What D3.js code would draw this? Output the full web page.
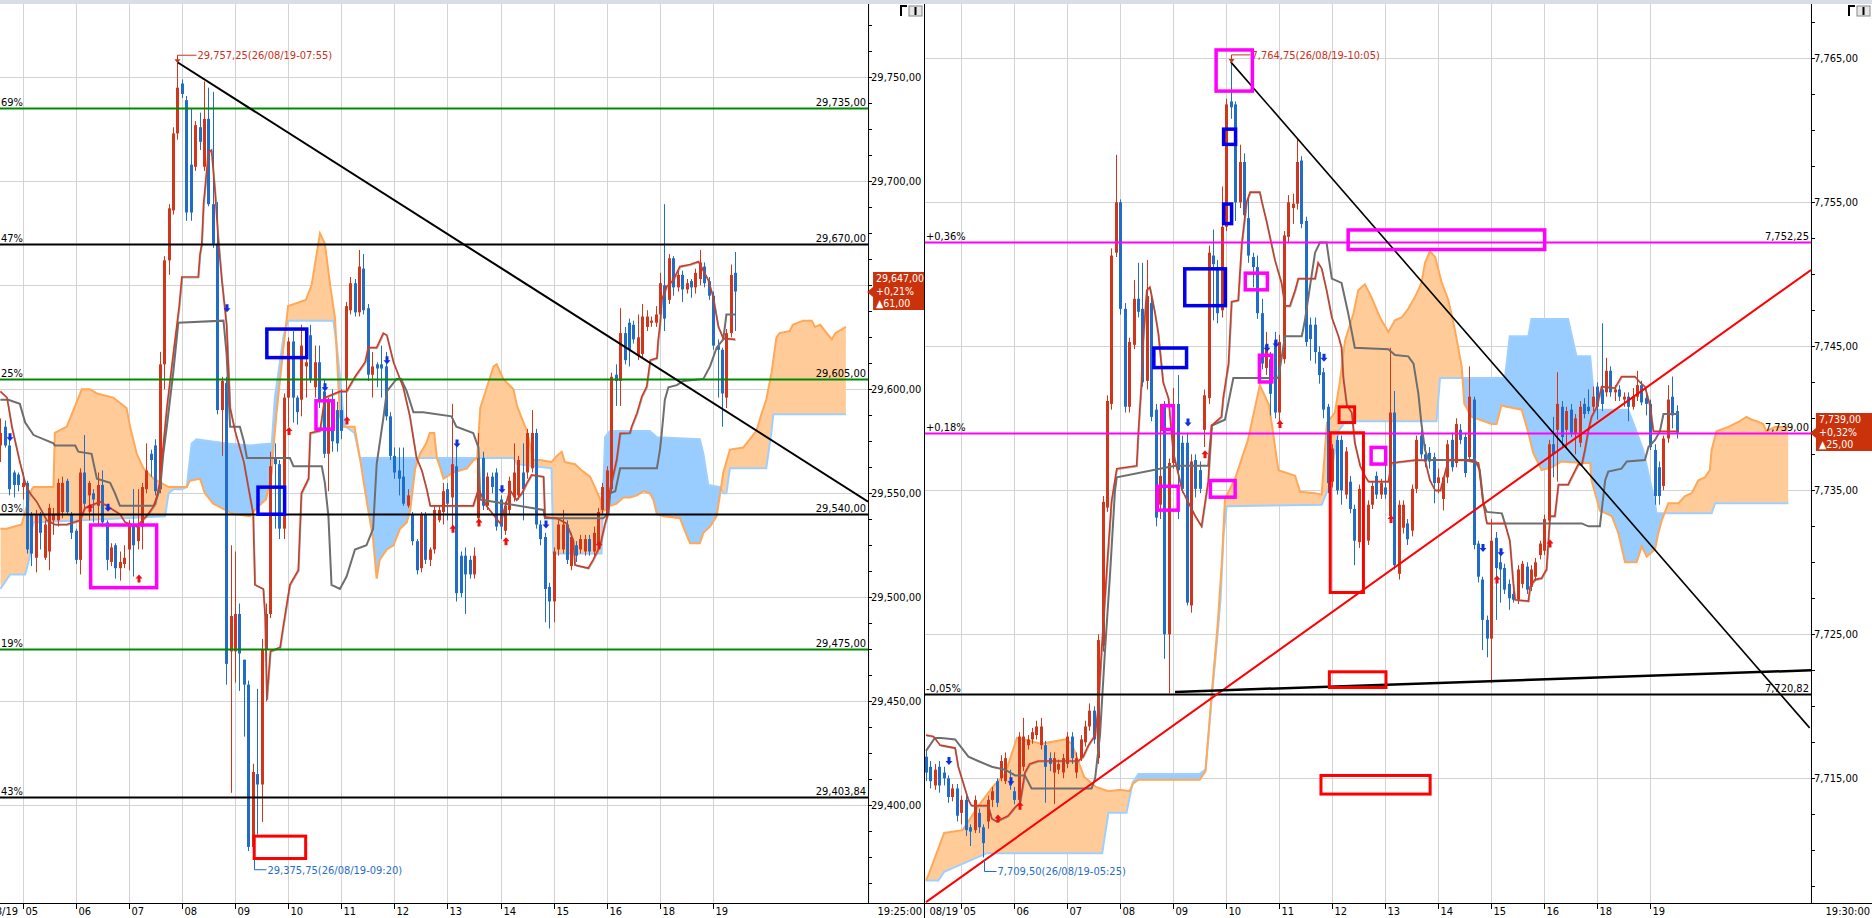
<!DOCTYPE html>
<html><head><meta charset="utf-8">
<script src="https://cdn.jsdelivr.net/npm/d3@7/dist/d3.min.js"></script>
<style>
html,body{margin:0;padding:0;background:#fff;overflow:hidden}
svg{display:block}
text{font-family:"DejaVu Sans Condensed","DejaVu Sans",sans-serif;font-stretch:condensed;font-size:11px}
</style></head><body>
<svg id="c" width="1872" height="918"></svg>
<script>
// ================= DATA =================
const hourLabels=['05','06','07','08','09','10','11','12','13','14','15','16','18','19'];
const leftHourIdx=[5,17,29,41,53,65,77,89,101,113,125,137,149,161];
const rightHourIdx=[8,20,32,44,56,68,80,92,104,116,128,140,152,164];

// Left: Dow futures 5-min candles
const leftOpen=[
29573,29582,29573,29560,29559,29553,29555,29540,29519,29540,
29519,29522,29537,29537,29541,29556,29540,29532,29518,29560,
29549,29550,29544,29554,29536,29517,29525,29514,29516,29523,
29535,29527,29534,29552,29569,29573,29552,29612,29662,29686,
29723,29747,29739,29708,29707,29726,29707,29730,29689,29670,
29590,29603,29474,29474,29492,29470,29458,29380,29415,29410,
29475,29492,29567,29564,29533,29596,29623,29596,29595,29611,
29626,29601,29613,29599,29569,29594,29590,29590,29605,29638,
29651,29637,29658,29639,29607,29612,29612,29611,29587,29568,
29561,29558,29544,29540,29527,29514,29540,29518,29523,29537,
29541,29552,29548,29563,29520,29520,29518,29511,29538,29567,
29544,29558,29560,29547,29532,29542,29548,29549,29560,29560,
29562,29579,29535,29529,29505,29498,29523,29523,29535,29515,
29525,29523,29522,29528,29522,29525,29542,29540,29552,29607,
29604,29627,29632,29631,29616,29617,29630,29632,29632,29636,
29650,29643,29663,29649,29655,29648,29652,29649,29653,29659,
29652,29645,29621,29619,29596,29627,29656];
const leftHigh=[
29586,29585,29576,29561,29560,29560,29556,29541,29542,29541,
29537,29545,29543,29557,29558,29557,29541,29533,29562,29578,
29556,29552,29560,29561,29537,29526,29526,29522,29525,29537,
29552,29552,29555,29574,29571,29576,29618,29664,29689,29726,
29757.25,29749,29741,29735,29729,29733,29748,29745,29743,29690,
29606,29606,29525,29522,29497,29470,29460,29420,29456,29480,
29497,29570,29574,29566,29598,29625,29628,29597,29631,29623,
29631,29621,29621,29605,29596,29600,29594,29600,29642,29654,
29653,29667,29665,29641,29618,29613,29621,29618,29589,29572,
29572,29572,29552,29541,29528,29541,29541,29524,29544,29544,
29555,29555,29593,29575,29522,29524,29520,29524,29579,29570,
29560,29560,29562,29549,29546,29558,29574,29568,29574,29581,
29590,29581,29537,29531,29507,29524,29537,29542,29537,29531,
29527,29530,29530,29530,29534,29543,29555,29563,29608,29612,
29639,29630,29634,29633,29636,29641,29638,29635,29640,29656,
29689,29665,29664,29657,29657,29653,29653,29658,29667,29661,
29654,29647,29624,29620,29629,29660,29666];
const leftLow=[
29565,29572,29549,29548,29551,29547,29521,29515,29512,29523,
29518,29513,29530,29534,29538,29540,29528,29516,29511,29542,
29537,29536,29535,29534,29513,29515,29509,29508,29514,29513,
29510,29523,29523,29550,29558,29549,29550,29600,29655,29684,
29720,29740,29681,29681,29705,29715,29705,29688,29668,29588,
29568,29458,29406,29459,29455,29433,29378,29375.75,29386,29392,
29450,29490,29533,29528,29528,29582,29584,29583,29587,29596,
29603,29596,29591,29567,29551,29570,29570,29576,29585,29636,
29635,29635,29636,29604,29596,29601,29596,29585,29566,29557,
29549,29544,29543,29525,29511,29512,29516,29515,29521,29536,
29535,29537,29534,29498,29500,29492,29509,29509,29535,29542,
29542,29550,29532,29528,29530,29540,29546,29547,29537,29557,
29560,29533,29525,29488,29485,29488,29520,29521,29516,29513,
29517,29521,29520,29520,29520,29523,29540,29538,29550,29592,
29592,29612,29611,29622,29614,29615,29628,29630,29630,29634,
29628,29641,29645,29647,29642,29646,29644,29646,29650,29649,
29643,29619,29596,29582,29591,29625,29628];
const leftClose=[
29579,29573,29552,29554,29554,29555,29523,29521,29540,29531,
29535,29543,29540,29555,29555,29541,29531,29518,29560,29545,
29555,29547,29554,29536,29518,29524,29514,29517,29519,29535,
29525,29534,29553,29561,29566,29551,29612,29662,29687,29723,
29745,29742,29685,29685,29727,29719,29730,29689,29670,29590,
29604,29468,29491,29492,29473,29458,29380,29416,29410,29475,
29492,29563,29564,29533,29596,29623,29596,29589,29621,29613,
29605,29613,29595,29569,29594,29575,29574,29580,29640,29651,
29637,29659,29638,29607,29611,29610,29610,29587,29568,29560,
29557,29545,29549,29527,29513,29540,29518,29523,29542,29542,
29551,29545,29564,29502,29502,29511,29511,29520,29567,29544,
29558,29553,29534,29534,29544,29556,29560,29566,29552,29579,
29579,29535,29528,29504,29498,29522,29535,29535,29518,29529,
29520,29528,29528,29522,29531,29541,29553,29561,29606,29604,
29627,29614,29619,29624,29625,29635,29635,29633,29636,29651,
29634,29663,29649,29655,29648,29651,29649,29656,29661,29651,
29645,29621,29619,29598,29627,29655,29647];
const leftTenkan=[[0,29599],[1.5,29596],[2.6,29582],[4.4,29565],[5.6,29555],[6.7,29550],[8.2,29546],[10.5,29537],[12.3,29535],[15,29535],[18,29537],[19.1,29543],[22.5,29546],[24,29544],[25.5,29542],[27,29540],[28.2,29536],[30.8,29534],[33.4,29540],[35,29545],[36,29555],[37.6,29591],[39,29616],[40.4,29640],[41,29654],[44.7,29654],[45.1,29665],[45.5,29670],[45.9,29689],[47,29714],[47.7,29715],[48.5,29695],[49.2,29673],[50,29653],[51.1,29631],[51.9,29591],[53,29580],[55,29565],[57.1,29540],[57.5,29506],[59.4,29504],[59.8,29491],[60.2,29451],[61,29474],[63.2,29476],[63.9,29486],[65.4,29506],[67.3,29513],[68,29550],[69.6,29557],[70,29579],[72.2,29580],[73.3,29596],[76.7,29599],[78.2,29599],[80.1,29606],[82.4,29613],[83.1,29620],[85,29620],[86.5,29627],[87.3,29626],[88.8,29613],[91,29601],[92.5,29587],[94,29567],[95.2,29561],[96.3,29552],[97.1,29544],[106.8,29544],[108,29552],[109.8,29544],[112.9,29535.5],[115.1,29551.6],[116.6,29546.8],[117.8,29550],[118.9,29554.8],[120,29558.8],[122.7,29558],[123,29538.7],[125.7,29538],[127.9,29535.5],[129.4,29527.6],[129.8,29515.5],[132.8,29514],[133.9,29518],[135.5,29525],[136.6,29535.5],[137.3,29540.4],[137.7,29551.6],[139.2,29566],[140,29578.8],[142.2,29579],[142.6,29582],[143.8,29588.5],[144.9,29596.5],[146,29601.3],[146.4,29607.7],[146.8,29614],[148.3,29615],[148.6,29623.7],[149,29631],[149.4,29643],[150.5,29649.3],[152,29652.5],[153.5,29659],[155.8,29660],[157.7,29661.4],[158.8,29657],[159.9,29652.5],[161,29644.5],[162.2,29630],[163.3,29624.5],[166,29624]];
const leftKijun=[[0,29595],[1.8,29595],[4.4,29593],[5.6,29584],[7.5,29578],[12,29574],[12.3,29573],[16.9,29573],[17.6,29570],[20.6,29569],[21.8,29557],[24.8,29555],[25.9,29550],[27,29544],[34.6,29544],[36.1,29552],[36.8,29569],[37.6,29582],[39.1,29609],[40.2,29632],[50.4,29633],[51.1,29617],[51.9,29582],[54.1,29582],[55,29575],[55.7,29567],[65.4,29567],[66.2,29563],[72.6,29563],[73.3,29555],[74.1,29539],[74.8,29506],[76.7,29504],[78.2,29510],[80.1,29523],[82.7,29525],[84.2,29533],[85,29564],[86.5,29586],[87.3,29599],[89.5,29605],[90.5,29605],[91.8,29599],[93.3,29589],[95.5,29589],[101.9,29587],[103,29582],[106.8,29579],[108,29572],[108.4,29547],[122.7,29542],[123,29538],[136.2,29538],[137.3,29540],[137.7,29550],[138.9,29551],[140,29562],[148.3,29562],[149,29571],[149.4,29579],[150.1,29595],[150.9,29601],[152.8,29602],[154.3,29604],[158.8,29605],[160.3,29611],[161.8,29620],[163.3,29624],[164,29636],[166,29636]];
const leftSpanA=[[0,29533],[1.4,29533],[4.8,29535],[7.1,29552],[7.5,29553],[12,29553],[12.3,29579],[15,29582],[18.4,29600],[20.2,29600],[21.8,29598],[25.5,29596],[28.5,29591],[29.3,29582],[30.8,29569],[32.3,29562],[34.6,29557],[38,29553],[42.1,29553],[42.8,29556],[45.1,29557],[46.2,29550],[48.1,29545],[52.6,29540],[56.4,29539],[57.9,29543],[60,29547],[61.3,29560],[61.7,29572],[62.4,29589],[64,29621],[65,29640],[69,29643],[70.3,29650],[72.2,29675],[73.3,29670],[74.5,29650],[75.6,29634],[76.7,29587],[77.5,29582],[80,29582],[81.2,29567],[82.7,29547],[84.2,29528],[85,29509],[85.7,29518],[87.3,29523],[88.8,29525],[90.3,29533],[91.8,29536],[92.6,29542],[93.7,29562],[94.8,29569],[96.2,29574],[97,29579],[98,29579],[98.6,29567],[99.4,29562],[100.1,29557],[102.3,29560],[105.4,29562],[106.9,29566],[107.7,29567],[108.4,29591],[109.9,29601],[111.4,29611],[112.1,29612],[113.6,29605],[115.9,29600],[116.7,29592],[118.9,29580],[120.4,29566],[121.9,29566],[124.5,29565],[125.7,29568],[126.8,29570],[127.5,29565],[129.8,29564],[131.3,29561],[133.2,29558],[134.3,29553],[135.5,29547],[135.8,29541],[136.6,29542],[137.7,29544],[139.2,29545],[140.7,29548],[142.2,29548],[143.8,29549],[145.3,29551],[146.7,29550],[147.5,29547],[148.3,29540],[149.8,29539],[153.5,29538],[154.6,29532],[155.8,29526],[158,29526],[158.8,29531],[160.3,29534],[161.8,29539],[162.6,29550],[163.3,29560],[164.8,29571],[167.8,29572],[169.3,29576],[170.8,29580],[171.9,29588],[173,29595],[174.2,29608],[175.3,29625],[176,29627],[178.3,29628],[179,29631],[181.3,29633],[183.3,29633],[184,29630],[185.2,29631],[186.3,29628],[187.8,29624],[188.6,29627],[191,29630]];
const leftSpanB=[[0,29504],[2.2,29511],[5.6,29511],[6.7,29520],[7.1,29533],[7.5,29536],[37.2,29539],[38,29550],[39.1,29552],[41,29552],[42.1,29553],[43.2,29574],[44.3,29576],[51.1,29574],[56.4,29573],[61.3,29574],[62,29596],[64,29626],[65,29633],[75.2,29633],[76,29621],[76.7,29606],[77.5,29587],[78,29582],[80,29579],[81.2,29567],[115.9,29567],[116.7,29564],[124.5,29562],[124.9,29521],[135.8,29521],[136.2,29553],[136.6,29577],[137.7,29580],[146.7,29580],[148.3,29577],[158,29576],[158.8,29569],[159.9,29554],[162.6,29553],[163.3,29550],[164,29550],[164.8,29562],[173,29562],[174.2,29580],[174.6,29588],[191,29588]];
const leftFibValues=[29735,29670,29605,29540,29475,29403.84];
const leftFibTags=['69%','47%','25%','03%','19%','43%'];
const leftSellMarks=[[2,29577],[24,29543],[51,29639],[73,29601],[87,29614],[103,29574],[113,29552],[123,29535]];
const leftBuyMarks=[[20,29543],[31,29509],[65,29580],[78,29585],[102,29533],[108,29536],[114,29527],[135,29525]];
const leftTrend=[[40,29757.25],[196,29546]];
const leftBoxes=[[20,35.7,29535.6,29503.8],[59.8,69.6,29629.8,29614.4],[57.8,64.6,29553.8,29539.1],[70.9,75.6,29595.3,29580],[57,69.3,29385.9,29373.7]];
const leftBoxKinds=['m','b','b','m','r'];
const leftHighMark=[40,29757.25,'29,757,25(26/08/19-07:55)'];
const leftLowMark=[57,29375.75,'29,375,75(26/08/19-09:20)'];
const leftQuote=['+0,21%','▲61,00'];

// Right: second index futures 5-min candles
const rightOpen=[
7716.5,7715.8,7714.5,7715.8,7715.4,7715,7713.7,7714.3,7712.6,7713.5,
7711.6,7711.4,7712.6,7711.6,7712,7713.5,7714.8,7715,7714.8,7714.8,
7714.1,7713.5,7715.8,7717.3,7717.7,7718,7717.3,7717.3,7716.4,7715.4,
7715.6,7715.4,7716,7717.9,7715.4,7716.4,7717.5,7718.6,7719.7,7716.4,
7724.2,7733.8,7741,7751.5,7755,7747.6,7740.8,7745.1,7748.3,7747.6,
7742.6,7748,7740.6,7734,7741,7725,7736.9,7741,7738.3,7738.3,
7727,7737.1,7736.4,7739.2,7741.4,7751.3,7750.5,7747.5,7753.3,7762,
7761.8,7755,7757.8,7753.9,7751.2,7750.5,7747.3,7743.5,7744.1,7745.4,
7740.4,7744.1,7752.6,7754.6,7754.9,7757.9,7753.7,7746.5,7746.5,7744.6,
7743.2,7740.8,7735.6,7738.5,7738.5,7734.7,7735.6,7733.7,7731.4,7735,
7731.5,7734,7736,7734.7,7735.2,7733.2,7740.4,7729.2,7732.4,7732.7,
7732.2,7735.1,7738.8,7737.5,7737.6,7737.3,7735.5,7734.4,7735.9,7738.5,
7736.9,7739.2,7738.7,7737.3,7741.3,7731.3,7728.8,7726,7724.7,7731.7,
7730,7729.6,7728.5,7727.8,7727.4,7728.5,7729.7,7728.3,7729,7730.5,
7730.8,7732.9,7738.2,7739.2,7740.8,7739.2,7740.6,7738.9,7738.3,7741,
7740.8,7740.8,7742.2,7742,7741.8,7743.3,7741.8,7742,7741.3,7741.5,
7740.8,7741.5,7742.3,7741.4,7741,7737.8,7736.6,7735.3,7738.6,7741.5,7740.5];
const rightHigh=[
7717,7716.2,7716,7716.2,7715.8,7715.2,7714.6,7714.6,7713.8,7713.8,
7711.8,7713.8,7712.9,7711.8,7713.8,7714.4,7715,7716.6,7716.8,7715.6,
7714.4,7718.2,7719.2,7718,7718.5,7719,7719.2,7717.6,7716.8,7716.8,
7716.3,7716.7,7718.2,7718.2,7716.8,7718,7719,7720.2,7720,7725,
7734.6,7741.6,7751.8,7758.3,7755.2,7748,7745.6,7749.6,7750.8,7750.8,
7751,7748.5,7741,7741,7741.2,7737.2,7742.1,7743,7738.8,7739,
7737.5,7737.5,7737,7742,7752,7753.1,7751,7756.1,7762.2,7764.75,
7762,7759,7758.4,7755.5,7751.5,7751.3,7748.3,7746,7744.6,7746,
7745.8,7753,7755.5,7755.6,7759.4,7758.2,7754,7747,7747,7745,
7743.5,7741,7738.2,7738.8,7738.8,7738,7736,7734,7735.4,7738.5,
7734.3,7735.6,7736.3,7735.8,7737.7,7744.9,7741.9,7734.3,7734.3,7733,
7735.4,7738.8,7739.2,7738.2,7738,7737.6,7736.5,7735.6,7738.5,7739,
7740,7739.6,7739,7743.6,7741.5,7731.5,7729,7726.3,7733,7732.1,
7730.9,7729.9,7728.8,7728,7729.8,7730.1,7730,7729.8,7730.3,7731.5,
7733.3,7738.5,7740.1,7743.2,7741.2,7740.8,7741,7740.3,7741.2,7741.4,
7742,7742.2,7742.5,7746.6,7744.2,7743.6,7742.3,7742.3,7741.8,7741.8,
7742.1,7743.3,7742.6,7742,7741.3,7738.2,7737,7738.8,7742.3,7742.9,7740.9];
const rightLow=[
7714.8,7714.3,7714.2,7714,7714.5,7713.3,7713.4,7712,7711.8,7711,
7710.3,7711.2,7711.2,7709.5,7711.5,7713,7713,7714.8,7714.6,7714.2,
7713.2,7713.2,7715.5,7717,7717.4,7717.7,7717,7713.3,7715.5,7713.2,
7715.3,7715,7715.7,7716,7715,7716.2,7717.2,7718.3,7717.4,7716,
7723.8,7733.5,7740.6,7751.2,7747.2,7740.4,7740.4,7744.8,7747,7742.2,
7742,7739.8,7732.5,7733,7723.3,7720.9,7736.5,7733,7734.8,7727,
7726.5,7734.5,7734.8,7738,7741,7746.8,7746.6,7747,7753,7760.8,
7753.7,7754.6,7753.8,7750.8,7749.1,7746.9,7743.4,7743,7740.2,7740,
7739.6,7743.8,7752.2,7753.5,7754.5,7753.2,7745,7744,7743.8,7742.4,
7740,7734.8,7735.2,7734.7,7734,7734.4,7733.4,7729.8,7731,7734.5,
7731.2,7733.7,7734.4,7734.4,7734.4,7732.8,7729.5,7728.8,7732,7731.2,
7731.8,7734.8,7737.2,7736.6,7736.5,7734.1,7734.8,7733.6,7735.5,7736.3,
7736.6,7738.2,7735.9,7737,7730.9,7728.6,7723.9,7723.4,7721.6,7726,
7727.2,7727.8,7726.7,7727.2,7727.1,7728.2,7727.8,7728,7728.7,7730.2,
7730.5,7732.6,7735.9,7735.6,7738,7737.9,7738.7,7737.5,7738,7740,
7740.3,7740.5,7739.9,7740.5,7741.5,7741.5,7741.2,7741.2,7740.8,7739.8,
7740.6,7741.2,7740.9,7740.2,7737.8,7734,7734,7735,7738.3,7739.3,7738.6];
const rightClose=[
7715.4,7714.8,7715.6,7714.5,7715,7713.7,7714.3,7712.4,7713.5,7711.4,
7711.3,7713.5,7711.6,7710.5,7713.5,7714.1,7713.3,7716.2,7716.4,7714.5,
7713.5,7717.9,7717.9,7717.7,7718.2,7718.6,7718.6,7715.8,7716,7716.4,
7716,7716.4,7717.9,7716.4,7716.4,7717.7,7718.6,7719.7,7717.7,7724.6,
7734.2,7741.2,7751.3,7755,7747.6,7740.8,7745.3,7748.3,7747.4,7742.5,
7748.5,7740.1,7733.1,7736,7725,7736.9,7740.6,7736.4,7735.1,7727.2,
7737,7735.1,7735.1,7741.6,7751.5,7750.7,7747.3,7753.3,7761.8,7761.6,
7755,7757.8,7754.1,7751.3,7750.5,7747.3,7743.8,7745.1,7741.7,7740.4,
7745.3,7752.7,7755,7754.9,7757.8,7753.5,7745.3,7745.5,7744.6,7743,
7740.6,7735.5,7737.9,7735,7735,7737.7,7733.7,7731.5,7735.1,7737.5,
7734,7735.3,7734.7,7735.5,7734.7,7740.4,7729.8,7734,7734,7731.6,
7735.1,7738.5,7737.5,7737,7737,7735.5,7735.9,7735.9,7738.2,7736.6,
7739.6,7738.5,7736.2,7741.5,7731.2,7729,7726,7724.7,7731.5,7729.6,
7729.5,7728.1,7727.5,7727.4,7729.5,7729.9,7728.1,7729.5,7730,7731.3,
7733,7738.2,7737.5,7741,7738.7,7740.5,7739,7740,7740.8,7740.3,
7740.5,7741.5,7740.8,7741,7743.3,7741.8,7742,7741.5,7741.5,7740.8,
7741.5,7742.3,7741.1,7741,7738,7734.6,7734.6,7738.6,7741.3,7740.2,7739];
const rightTenkan=[[0,7718],[1.7,7717.9],[3.2,7717.3],[6.6,7717.1],[7.3,7715.8],[9.6,7713.5],[10.3,7713.1],[14.1,7713.1],[14.9,7712.2],[16,7712],[18.6,7712.4],[20.2,7713],[21.3,7713.3],[22.4,7715.4],[23.5,7716],[25.4,7716.2],[34.5,7716.2],[35.6,7716.5],[36.8,7717.3],[38.3,7718],[39,7719.9],[39.8,7724.1],[40.9,7729.3],[42,7734.2],[43.2,7736.5],[47.7,7736.7],[48.1,7739.1],[48.8,7742.5],[49.2,7745.5],[50,7748.9],[50.7,7749.1],[51.8,7747.4],[52.6,7745.9],[53.7,7742.5],[54.9,7741.4],[56,7737.6],[58,7735],[61,7733.2],[62.4,7732.5],[63.9,7735.6],[64.7,7739.5],[66.9,7740.1],[67.3,7741.4],[68.5,7743.8],[69.2,7748.1],[70.7,7748.2],[71.5,7752.1],[72.6,7755],[73.4,7755.7],[75.6,7755.7],[76,7755.1],[77.1,7753.7],[79,7751],[80.5,7749.4],[81.3,7747.8],[82.4,7747.8],[83.6,7748.9],[84.3,7749.7],[88.1,7749.7],[88.8,7750.8],[89.6,7750.4],[90.7,7748.9],[91.9,7747],[93.4,7745.7],[94.1,7744.9],[94.5,7742.8],[95.3,7740.9],[96.4,7740.4],[97.1,7738.3],[98.3,7736.7],[99.4,7736],[100.2,7735.6],[104.7,7735.6],[105.4,7736.9],[110.7,7737.1],[113,7737.1],[114.1,7735.7],[115.3,7735],[116.5,7735],[118.3,7737.1],[122.1,7737.1],[125.1,7736.9],[126.2,7734.1],[127,7732.7],[131.1,7732.7],[132.2,7731.5],[133,7728.5],[133.4,7727.4],[136.4,7727.3],[136.8,7728.3],[137.9,7728.8],[139.4,7728.9],[140.5,7729.5],[140.9,7731.3],[141.3,7733.2],[142.4,7733.2],[143.2,7735.4],[145.4,7735.4],[146.2,7735.9],[147.7,7736.8],[148.5,7736.8],[149.2,7737.8],[150,7739.2],[150.7,7740.1],[151.9,7740.8],[153,7742.2],[156,7742.1],[157.5,7742.9],[160.5,7742.9],[162,7742.4],[162.8,7742.2],[164,7740.8],[164.7,7739.1],[170.4,7739.1]];
const rightKijun=[[0,7716.9],[2,7717.8],[3.5,7717.8],[6.6,7717.7],[9.6,7716.5],[11.8,7716.2],[14.9,7715.8],[17.9,7715.6],[20.2,7715.2],[22.4,7715.2],[23.9,7714.3],[37.5,7714.3],[38.3,7715],[39.4,7718],[40.5,7723.7],[41.7,7729.3],[42.8,7735],[43.2,7735.9],[56.4,7736.7],[63.9,7736.7],[64.7,7739.5],[67.7,7739.9],[69.6,7742.8],[79.8,7742.8],[81.3,7745.7],[85.1,7745.7],[85.8,7746.8],[88.1,7751.5],[89.2,7752.2],[90.7,7752.2],[91.9,7749.7],[94.1,7749.4],[95.6,7747.3],[97.1,7744.9],[104.7,7744.8],[106.2,7744.4],[109.2,7744.3],[110.4,7743.8],[111.5,7741.7],[112.2,7739.6],[113,7737.8],[113.8,7737.1],[124.3,7737.1],[125.4,7736.4],[126.2,7734.1],[127,7733.5],[130.4,7733.4],[131.1,7732.7],[148.5,7732.7],[150,7732.5],[152.6,7732.5],[153.8,7735.7],[154.5,7736.3],[157.5,7736.5],[158.7,7737],[162.8,7737.1],[163.6,7738],[165.1,7738.5],[166.2,7739.1],[167,7740.3],[170.4,7740.3]];
const rightSpanA=[[0,7707.9],[0.7,7708.4],[4.1,7711.2],[8.3,7711.4],[11.7,7713],[15.1,7714.4],[17.9,7715.3],[20.6,7717.8],[26.1,7717.4],[31.6,7717.7],[33,7717.4],[35.8,7715.1],[38.5,7714.4],[41.3,7714.1],[44,7714.2],[46.1,7714.1],[46.8,7714.6],[48.1,7714.9],[62,7714.9],[63.3,7715.5],[64.6,7720.5],[66,7725.5],[67,7730],[67.7,7734.4],[70.1,7735.9],[72.9,7738.5],[75.6,7742.3],[77.7,7740.9],[79.8,7736.4],[83.6,7736],[84.7,7734.9],[88.1,7734.8],[89.6,7734.7],[90.8,7739.7],[92.6,7740.4],[93.7,7742.5],[94.9,7745.4],[96,7746.5],[96.8,7747.3],[97.9,7748.9],[99.4,7749.3],[100.9,7748.4],[102.8,7747],[104.7,7746],[106.2,7746.8],[107.7,7747],[109.2,7747.6],[110.7,7748.4],[112.2,7749.4],[113,7750.8],[114.1,7751.6],[115.3,7751.2],[116.8,7749.4],[118.3,7748.2],[119.8,7746.1],[121.3,7743.6],[121.9,7741],[123.6,7740.1],[128.1,7739.6],[129.2,7739.6],[130.3,7740.9],[131.5,7740.8],[134.9,7740.6],[136.4,7739],[137.5,7737.6],[139.4,7736.4],[141.7,7736.6],[143.9,7737],[148.5,7736.9],[150.4,7736.9],[150.7,7735.7],[152.6,7733.6],[155.3,7733.2],[156.8,7732],[158.3,7730],[160.9,7730],[162.1,7731.1],[163.2,7730.4],[165.1,7730.9],[165.8,7732],[166.6,7732.9],[168.1,7734.1],[170.4,7734.1],[171.9,7734.6],[173.4,7734.8],[174.9,7735.7],[176.4,7735.9],[177.5,7736.4],[177.9,7737.8],[179,7739.1],[181.7,7739.4],[184.3,7739.8],[185.8,7740.1],[187,7739.9],[188.1,7739.8],[189.6,7739.6],[190.3,7739.1],[192.2,7739.4],[195.3,7739.4]];
const rightSpanB=[[0,7707.9],[2.8,7707.9],[4.1,7708.5],[13.8,7709.8],[39.9,7709.8],[41.3,7712.6],[45.4,7712.6],[46.8,7714.7],[48.1,7715.3],[61.9,7715.3],[63.3,7715.6],[64.6,7720.2],[66,7724.9],[66.7,7727.4],[67.4,7732],[68.1,7733.9],[89.6,7734],[91.1,7735.1],[93.4,7739.1],[95,7739.8],[115.6,7739.8],[116.4,7742.8],[131.1,7742.8],[132.2,7745.7],[136.4,7745.7],[137.1,7746.9],[145.4,7746.9],[147.3,7744.3],[150.4,7744.3],[151.5,7740.6],[159,7740.6],[160.5,7739.4],[162.4,7737.8],[165.1,7734.1],[165.4,7733.4],[177.9,7733.4],[178.7,7734.1],[195.3,7734.1]];
const rightFibValues=[7752.25,7739,7720.82];
const rightFibTags=['+0,36%','+0,18%','-0,05%'];
const rightSellMarks=[[5,7716.2],[19,7714.8],[59,7739.7],[77,7744.9],[79,7745.2],[90,7744.2],[126,7731],[130,7730.7]];
const rightBuyMarks=[[16,7712.2],[21,7713.1],[63,7737.5],[80,7739.6],[105,7733],[129,7728.8],[141,7731.3]];
const rightTrendDown=[[69,7764.75],[200.1,7718.5]];
const rightTrendUp=[[0,7706.4],[200.4,7750.3]];
const rightTrendFlat=[[56.4,7721],[200.5,7722.5]];
const rightBoxes=[[65.3,74.3,7765.7,7762.6],[67,70.5,7760.2,7758.9],[67,69.6,7755,7753.4],[95.2,140.5,7753.2,7751.6],[58.2,68.2,7750.5,7747.7],[71.9,77.7,7750.2,7748.8],[51.2,59.4,7745,7743.4],[75.1,78.7,7744.5,7742.4],[53.2,56.4,7741,7739.1],[93.2,97.4,7740.9,7739.6],[91.2,99.4,7739.1,7727.8],[100.4,104.5,7738.1,7736.7],[52,57.5,7735.4,7733.5],[64,70.4,7735.8,7734.4],[91,104.5,7722.5,7721.2],[89.1,114.5,7715.3,7713.8]];
const rightBoxKinds=['m','b','b','m','b','m','b','m','m','r','r','m','m','m','r','r'];
const rightHighMark=[69,7764.75,'7,764,75(26/08/19-10:05)'];
const rightLowMark=[13,7709.5,'7,709,50(26/08/19-05:25)'];
const rightQuote=['+0,32%','▲25,00'];

// ================= DRAWING =================
const svg=d3.select('#c');
const defs=svg.append('defs');
const C={red:'#d2361a',blue:'#1f6dc8',tenkan:'#e8301a',teal:'#1a8e90',kijun:'#6e6e6e',
  cloudO:'#ffcc99',cloudB:'#99ccff',edgeO:'#ffa858',edgeB:'#9fcfff',grid:'#d3d3d3',
  mag:'#ff00ff',boxB:'#0000ee',boxR:'#ff0000',tag:'#c9320b'};
const fmt=v=>d3.format(',.2f')(v).replace(/\.(\d\d)$/,',$1');

svg.append('rect').attr('x',0).attr('y',0).attr('width',1872).attr('height',918).attr('fill','#fff');

function drawPanel(p){
  const xs=d3.scaleLinear().domain(p.xDom).range(p.xRange);
  const ys=d3.scaleLinear().domain(p.yDom).range([903,4]);
  const L=p.left,R=p.xRange[1],T=4,B=903;
  const g=svg.append('g');
  defs.append('clipPath').attr('id','pc'+p.id).append('rect').attr('x',L).attr('y',T).attr('width',R-L).attr('height',B-T);
  const plot=g.append('g').attr('clip-path',`url(#pc${p.id})`);
  // grid
  const majors=d3.range(p.majorBase+Math.ceil((p.yDom[0]-p.majorBase)/p.major)*p.major,p.yDom[1],p.major);
  plot.selectAll('line.hg').data(majors).join('line').attr('x1',L).attr('x2',R)
    .attr('y1',d=>Math.round(ys(d))+0.5).attr('y2',d=>Math.round(ys(d))+0.5).attr('stroke',C.grid);
  plot.selectAll('line.vg').data(p.hourIdx).join('line').attr('y1',T).attr('y2',B)
    .attr('x1',d=>Math.round(xs(d))+0.5).attr('x2',d=>Math.round(xs(d))+0.5).attr('stroke',C.grid);
  // cloud
  const pA=p.spanA.map(d=>[xs(d[0]),ys(d[1])]), pB=p.spanB.map(d=>[xs(d[0]),ys(d[1])]);
  const poly='M'+pA.concat(pB.slice().reverse()).map(q=>q.join(',')).join('L')+'Z';
  const bl='M'+pB.map(q=>q.join(',')).join('L');
  defs.append('clipPath').attr('id','ca'+p.id).append('path').attr('d',bl+`L${pB[pB.length-1][0]},${T-20}L${pB[0][0]},${T-20}Z`);
  defs.append('clipPath').attr('id','cb'+p.id).append('path').attr('d',bl+`L${pB[pB.length-1][0]},${B+20}L${pB[0][0]},${B+20}Z`);
  plot.append('g').attr('clip-path',`url(#ca${p.id})`).append('path').attr('d',poly).attr('fill',C.cloudO);
  plot.append('g').attr('clip-path',`url(#cb${p.id})`).append('path').attr('d',poly).attr('fill',C.cloudB);
  const ln=d3.line().x(d=>xs(d[0])).y(d=>ys(d[1]));
  plot.append('path').attr('d',ln(p.spanB)).attr('fill','none').attr('stroke',C.edgeB).attr('stroke-width',2);
  plot.append('path').attr('d',ln(p.spanA)).attr('fill','none').attr('stroke',C.edgeO).attr('stroke-width',2);
  // candles
  const cg=plot.append('g');
  d3.range(p.open.length).forEach(i=>{
    const cx=Math.round(xs(i));
    const col=p.close[i]>=p.open[i]?C.red:C.blue;
    cg.append('line').attr('x1',cx+0.5).attr('x2',cx+0.5).attr('y1',ys(p.high[i])).attr('y2',ys(p.low[i])).attr('stroke',col).attr('stroke-width',1);
    const y1=ys(Math.max(p.open[i],p.close[i])), y2=ys(Math.min(p.open[i],p.close[i]));
    cg.append('rect').attr('x',cx-1).attr('width',3).attr('y',y1).attr('height',Math.max(1,y2-y1)).attr('fill',col);
  });
  // kijun, tenkan
  plot.append('path').attr('d',ln(p.kijun)).attr('fill','none').attr('stroke',C.kijun).attr('stroke-width',2);
  plot.append('path').attr('d',ln(p.tenkan)).attr('fill','none').attr('stroke',C.tenkan).attr('stroke-width',1.7);
  plot.append('path').attr('d',ln(p.tenkan)).attr('transform','translate(0.8,1)').attr('fill','none').attr('stroke',C.teal).attr('stroke-width',0.6).attr('opacity',0.8);
  // fib lines
  p.fib.forEach((v,k)=>{
    const y=Math.round(ys(v))+0.5;
    plot.append('line').attr('x1',L).attr('x2',R).attr('y1',y).attr('y2',y).attr('stroke',p.fibColor[k]).attr('stroke-width',2);
    g.append('text').attr('x',L+1).attr('y',y-3).text(p.fibTags[k]).attr('fill','#000');
    g.append('text').attr('x',R-2).attr('y',y-3).attr('text-anchor','end').text(fmt(v)).attr('fill','#000');
  });
  // trend lines
  p.trends.forEach(t=>{
    plot.append('line').attr('x1',xs(t.d[0][0])).attr('y1',ys(t.d[0][1])).attr('x2',xs(t.d[1][0])).attr('y2',ys(t.d[1][1]))
      .attr('stroke',t.c).attr('stroke-width',t.w);
  });
  // signal marks
  const arrow=(x,y,s,col)=>{
    plot.append('path').attr('d',`M${x-1},${y-4*s}L${x+2},${y-4*s}L${x+2},${y}L${x+4},${y}L${x+0.5},${y+4*s}L${x-3},${y}L${x-1},${y}Z`).attr('fill',col);
  };
  p.sell.forEach(d=>arrow(Math.round(xs(d[0]))+0.5,ys(d[1]),1,'#1030e0'));
  p.buy.forEach(d=>arrow(Math.round(xs(d[0]))+0.5,ys(d[1]),-1,'#ee1010'));
  // high / low labels
  {
    const hx=Math.round(xs(p.hiMark[0]))+0.5, hy=ys(p.hiMark[1]);
    plot.append('path').attr('d',`M${hx-3},${hy-3}L${hx+3},${hy-3}L${hx},${hy+1}Z`).attr('fill','#c8321a');
    plot.append('path').attr('d',`M${hx},${hy-2}V${hy-7}H${hx+19}`).attr('fill','none').attr('stroke','#c8321a');
    plot.append('text').attr('x',hx+20).attr('y',hy-3).text(p.hiMark[2]).attr('fill','#c8321a');
    const lx=Math.round(xs(p.loMark[0]))+1.5, ly=ys(p.loMark[1]);
    plot.append('path').attr('d',`M${lx},${ly+2}V${ly+14}H${lx+12}`).attr('fill','none').attr('stroke','#1f6dc8');
    plot.append('text').attr('x',lx+13).attr('y',ly+18).text(p.loMark[2]).attr('fill','#1f6dc8');
  }
  // annotation boxes
  p.boxes.forEach((b,k)=>{
    const kind=p.boxKinds[k];
    const col=kind==='m'?C.mag:kind==='b'?C.boxB:C.boxR;
    const sw=kind==='r'?3:3.5;
    const x1=xs(b[0])+sw/2,x2=xs(b[1])-sw/2,y1=ys(b[2])+sw/2,y2=ys(b[3])-sw/2;
    plot.append('rect').attr('x',x1).attr('y',y1).attr('width',x2-x1).attr('height',y2-y1).attr('fill','none').attr('stroke',col).attr('stroke-width',sw);
  });
  // axes
  const qy=Math.round(ys(p.close[p.close.length-1]));
  g.append('line').attr('x1',R+0.5).attr('x2',R+0.5).attr('y1',T).attr('y2',B).attr('stroke','#000');
  const minors=d3.range(p.majorBase+Math.ceil((p.yDom[0]-p.majorBase)/p.minor)*p.minor,p.yDom[1],p.minor);
  g.selectAll('line.mt').data(minors).join('line').attr('x1',R).attr('x2',R+4)
    .attr('y1',d=>Math.round(ys(d))+0.5).attr('y2',d=>Math.round(ys(d))+0.5).attr('stroke','#000');
  g.selectAll('text.yl').data(majors.filter(d=>Math.abs(ys(d)-qy)>24)).join('text').attr('x',R+3).attr('y',d=>ys(d)+4).text(d=>fmt(d)).attr('fill','#000');
  // x axis
  g.append('line').attr('x1',p.left).attr('x2',p.right).attr('y1',903.5).attr('y2',903.5).attr('stroke','#000');
  p.hourIdx.forEach((h,k)=>{
    const x=Math.round(xs(h))+0.5;
    g.append('line').attr('x1',x).attr('x2',x).attr('y1',904).attr('y2',909).attr('stroke','#000');
    g.append('text').attr('x',x+2).attr('y',915).text(hourLabels[k]).attr('fill','#000');
  });
  g.append('text').attr('x',p.dateX).attr('y',915).attr('text-anchor','end').text('08/19').attr('fill','#000');
  g.append('text').attr('x',p.right-2).attr('y',915).attr('text-anchor','end').text(p.endTime).attr('fill','#000');
  // quote tag
  const tx=R+3, ty=qy-20;
  g.append('path').attr('d',`M${R-1},${qy}L${tx+2},${qy-5}V${ty}H${p.right}V${ty+38}H${tx+2}V${qy+5}Z`).attr('fill',C.tag);
  const qt=[fmt(p.close[p.close.length-1])].concat(p.quote);
  qt.forEach((s,k)=>g.append('text').attr('x',tx+5).attr('y',ty+10+k*12.5).text(s).attr('fill','#fff').style('font-size','10.5px'));
  // toolbar icon
  const ix=p.right-24;
  g.append('path').attr('d',`M${ix+1},16V6H${ix+7}`).attr('fill','none').attr('stroke','#000').attr('stroke-width',2);
  g.append('rect').attr('x',ix+9).attr('y',6).attr('width',13).attr('height',10).attr('fill','#e6e6e6').attr('stroke','#888');
  g.append('line').attr('x1',ix+15.5).attr('x2',ix+15.5).attr('y1',7).attr('y2',15).attr('stroke','#000').attr('stroke-width',2);
}

// left panel
drawPanel({id:'L',left:0,right:924,xDom:[0,196],xRange:[0.37,868.06],yDom:[29353.03,29785.24],
  major:50,majorBase:0,minor:12.5,hourIdx:leftHourIdx,open:leftOpen,high:leftHigh,low:leftLow,close:leftClose,
  tenkan:leftTenkan,kijun:leftKijun,spanA:leftSpanA,spanB:leftSpanB,
  fib:leftFibValues,fibTags:leftFibTags,fibColor:['#008a00','#000','#008a00','#000','#008a00','#000'],
  trends:[{d:leftTrend,c:'#000',w:2}],sell:leftSellMarks,buy:leftBuyMarks,
  boxes:leftBoxes,boxKinds:leftBoxKinds,hiMark:leftHighMark,loMark:leftLowMark,
  dateX:18,endTime:'19:25:00',quote:leftQuote});
// right panel background covers tag overflow
svg.append('rect').attr('x',924).attr('y',0).attr('width',948).attr('height',918).attr('fill','#fff');
drawPanel({id:'R',left:925,right:1872,xDom:[0,200.4],xRange:[926,1810.97],yDom:[7706.34,7768.77],
  major:10,majorBase:5,minor:2.5,hourIdx:rightHourIdx,open:rightOpen,high:rightHigh,low:rightLow,close:rightClose,
  tenkan:rightTenkan,kijun:rightKijun,spanA:rightSpanA,spanB:rightSpanB,
  fib:rightFibValues,fibTags:rightFibTags,fibColor:['#ff00ff','#ff00ff','#000'],
  trends:[{d:rightTrendUp,c:'#ff0000',w:2},{d:rightTrendFlat,c:'#000',w:2.5},{d:rightTrendDown,c:'#000',w:1.6}],
  sell:rightSellMarks,buy:rightBuyMarks,boxes:rightBoxes,boxKinds:rightBoxKinds,
  hiMark:rightHighMark,loMark:rightLowMark,dateX:958,endTime:'19:30:00',quote:rightQuote});
svg.append('line').attr('x1',924.5).attr('x2',924.5).attr('y1',0).attr('y2',918).attr('stroke','#000');
// top header strip
svg.append('rect').attr('x',0).attr('y',0).attr('width',1872).attr('height',4).attr('fill','#d9dde6');
</script>
</body></html>
